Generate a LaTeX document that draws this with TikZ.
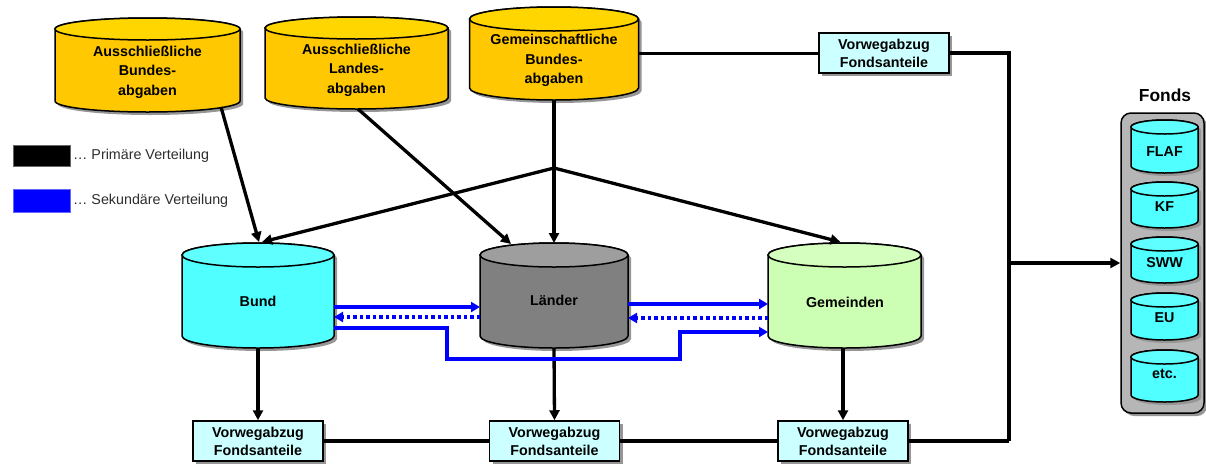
\documentclass[tikz,border=0pt]{standalone}
\usepackage{fontspec}
\setmainfont{Liberation Sans}
\usetikzlibrary{arrows.meta,calc}
\definecolor{gold}{RGB}{255,200,0}
\definecolor{goldtop}{RGB}{255,214,0}
\definecolor{cyanb}{RGB}{80,255,255}
\definecolor{cyantop}{RGB}{95,255,255}
\definecolor{grayb}{RGB}{128,128,128}
\definecolor{graytop}{RGB}{158,158,158}
\definecolor{greenb}{RGB}{204,255,179}
\definecolor{greentop}{RGB}{212,255,190}
\definecolor{boxfill}{RGB}{204,255,255}
\definecolor{fondsgray}{RGB}{182,182,182}
\definecolor{secblue}{RGB}{0,0,255}
\definecolor{legtext}{RGB}{45,45,45}
\definecolor{shadowcol}{RGB}{150,150,150}
\tikzset{
  cylborder/.style={draw=black,line width=1.5pt},
  cyltext/.style={align=center,inner sep=0pt,font=\bfseries\fontsize{14.3}{19.5}\selectfont},
  vorbox/.style={draw=black,line width=1.5pt,fill=boxfill,minimum width=130pt,minimum height=40pt,inner sep=0pt,align=center,
    font=\bfseries\fontsize{14.3}{18}\selectfont,
    preaction={fill=shadowcol,transform canvas={xshift=3pt,yshift=-3pt}}},
  prim/.style={line width=3.3pt,black},
  primarrow/.style={prim,-{Triangle[length=10pt,width=10pt]}},
  sec/.style={line width=3.3pt,secblue,-{Triangle[length=9pt,width=10pt]}},
  secdot/.style={sec,dash pattern=on 3.5pt off 3pt},
  legtxt/.style={anchor=west,inner sep=0pt,text=legtext,font=\fontsize{14.3}{17}\selectfont}
}
% name, cx, yt, yb, w, r, body colour, top colour
\newcommand\drum[8]{%
  \fill[shadowcol] (#2-#5+3,-#3-3) -- (#2-#5+3,-#4-3) arc[start angle=180,end angle=360,x radius=#5,y radius=#6] -- (#2+#5+3,-#3-3) arc[start angle=0,end angle=180,x radius=#5,y radius=#6] -- cycle;
  \draw[cylborder,fill=#7] (#2-#5,-#3) -- (#2-#5,-#4) arc[start angle=180,end angle=360,x radius=#5,y radius=#6] -- (#2+#5,-#3) arc[start angle=0,end angle=180,x radius=#5,y radius=#6] -- cycle;
  \draw[cylborder,fill=#8] (#2,-#3) ellipse[x radius=#5,y radius=#6];
  \node[inner sep=0pt,outer sep=0pt,minimum width={2*#5},minimum height={#4-#3+2*#6}] (#1) at (#2,{-(#3+#4)/2}) {};
}
\begin{document}
\begin{tikzpicture}[x=1pt,y=1pt]
\useasboundingbox (0,0) rectangle (1206,-464);

% cylinders
\drum{ca}{147.5}{29}{101}{92.5}{11}{gold}{goldtop}
\drum{cb}{356.5}{28}{98}{91.5}{11}{gold}{goldtop}
\drum{cc}{554}{19}{88}{84.5}{12}{gold}{goldtop}
\drum{bund}{258}{255}{336}{76}{12}{cyanb}{cyantop}
\drum{laender}{554}{255}{336}{74}{12}{grayb}{graytop}
\drum{gem}{844.5}{255}{336}{76.5}{12}{greenb}{greentop}

\node[cyltext] (tca) at (147.5,-72) {Ausschließliche\\Bundes-\\abgaben};
\node[cyltext] (tcb) at (356.5,-70) {Ausschließliche\\Landes-\\abgaben};
\node[cyltext] (tcc) at (554,-60.5) {Gemeinschaftliche\\Bundes-\\abgaben};
\node[cyltext] (tbund) at (258,-301) {Bund};
\node[cyltext] (tlaender) at (554,-300) {Länder};
\node[cyltext] (tgem) at (845,-302) {Gemeinden};

% Vorwegabzug boxes
\node[vorbox] (topbox) at (884,-53) {Vorwegabzug\\Fondsanteile};
\node[vorbox] (vb) at (258,-441) {Vorwegabzug\\Fondsanteile};
\node[vorbox] (vl) at (554.5,-441) {Vorwegabzug\\Fondsanteile};
\node[vorbox] (vgm) at (843,-441) {Vorwegabzug\\Fondsanteile};

% Fonds group
\node[draw=black,line width=1.5pt,fill=fondsgray,rounded corners=10pt,minimum width=83pt,minimum height=300pt,
  preaction={fill=shadowcol,rounded corners=10pt,transform canvas={xshift=3pt,yshift=-3pt}}] (fonds) at (1162.5,-263) {};
\node[inner sep=0pt,font=\bfseries\fontsize{17.4}{20}\selectfont] (fondslabel) at (1165,-95) {Fonds};
\drum{flaf}{1164.5}{127}{166}{33.5}{7}{cyanb}{cyantop}
\drum{kf}{1164.5}{189}{221}{33.5}{7}{cyanb}{cyantop}
\drum{sww}{1164.5}{244}{276}{33.5}{7}{cyanb}{cyantop}
\drum{eu}{1164.5}{300}{333}{33.5}{7}{cyanb}{cyantop}
\drum{etc}{1164.5}{357}{395}{33.5}{7}{cyanb}{cyantop}
\node[cyltext] (tflaf) at (1164.5,-152) {FLAF};
\node[cyltext] (tkf) at (1164.5,-207) {KF};
\node[cyltext] (tsww) at (1164.5,-263) {SWW};
\node[cyltext] (teu) at (1164.5,-318) {EU};
\node[cyltext] (tetc) at (1164.5,-374) {etc.};

% legend
\node[fill=black,draw=black!60,line width=0.8pt,minimum width=57pt,minimum height=21pt,inner sep=0pt] (legp) at (41.5,-155.5) {};
\node[legtxt] (legpt) at (73,-156) {… Primäre Verteilung};
\node[fill=secblue,draw=secblue!60,line width=0.8pt,minimum width=57pt,minimum height=23pt,inner sep=0pt] (legs) at (41.5,-200.5) {};
\node[legtxt] (legst) at (73,-201) {… Sekundäre Verteilung};

% primary connectors
\coordinate (J) at (554,-168);
\coordinate (R) at (1009,-441);
\coordinate (F) at (1009,-263);
\draw[primarrow] ([xshift=73.5pt,yshift=5pt]ca.south) -- ([xshift=1pt,yshift=1pt]bund.north);
\draw[primarrow] ([xshift=1.5pt]cb.south) -- ([xshift=-43pt,yshift=-1pt]laender.north);
\draw[primarrow] (cc.south) -- (laender.north);
\draw[primarrow] (J) -- ([xshift=4pt,yshift=1pt]bund.north);
\draw[primarrow] (J) -- ([xshift=-4pt,yshift=1pt]gem.north);
\draw[prim] (cc.east) -- (cc.east -| topbox.west);
\draw[prim] (topbox.east) -| (R);
\draw[prim] (vb.east) -- (vl.west);
\draw[prim] (vl.east) -- (vgm.west);
\draw[prim] (vgm.east) -- (R);
\draw[primarrow] (F) -- (fonds.west);
\draw[primarrow] (bund.south) -- (vb.north);
\draw[primarrow] (laender.south) -- (vl.north);
\draw[primarrow] (gem.south -| vgm.north) -- (vgm.north);

% secondary connectors
\draw[sec] ([yshift=-11.5pt]bund.east) -- ([yshift=-11.5pt]laender.west);
\draw[secdot] ([yshift=-21.5pt]laender.west) -- ([yshift=-21.5pt]bund.east);
\draw[sec] ([yshift=-32.5pt]bund.east) -- ++(113,0) -- ++(0,-31) -- ++(233,0) |- ([yshift=-36.5pt]gem.west);
\draw[sec] ([yshift=-8.5pt]laender.east) -- ([yshift=-8.5pt]gem.west);
\draw[secdot] ([yshift=-22.5pt]gem.west) -- ([yshift=-22.5pt]laender.east);
\end{tikzpicture}
\end{document}
